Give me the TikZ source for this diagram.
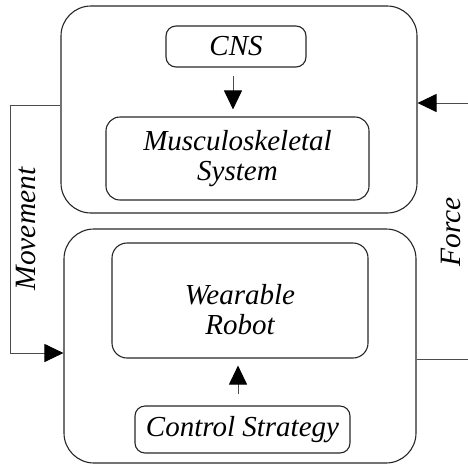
\documentclass[tikz,border=0pt]{standalone}
\usepackage{fontspec}
\setmainfont{Liberation Serif}
\usetikzlibrary{arrows.meta,calc}
\tikzset{
  box/.style={draw=black!85, line width=1.1pt, rectangle, inner sep=0pt,
    font=\itshape\fontsize{29}{30}\selectfont, text=black, align=center},
  bigbox/.style={box, rounded corners=30pt},
  smallbox/.style={box, rounded corners=11pt},
  lbl/.style={font=\itshape\fontsize{29.5}{30}\selectfont, text=black, inner sep=0pt},
  conn/.style={draw=black!70, line width=1pt},
  arr/.style={conn, -{Triangle[length=19pt,width=18pt,color=black,fill=black]}}
}
\begin{document}
\begin{tikzpicture}[x=1pt,y=-1pt]
\useasboundingbox (0,0) rectangle (468,464);
% big boxes
\node[bigbox, minimum width=356pt, minimum height=207pt] (top) at (239,109.5) {};
\node[bigbox, minimum width=352pt, minimum height=234pt] (bot) at (240,346) {};
% inner boxes
\node[smallbox, rounded corners=10pt, minimum width=140pt, minimum height=41pt] (cns) at (236,46.5) {CNS};
\node[smallbox, rounded corners=14pt, minimum width=263pt, minimum height=83pt] (mus) at (237.5,158.5) {Musculoskeletal\\System};
\node[smallbox, rounded corners=15pt, minimum width=256pt, minimum height=115pt] (wr) at (240,300.5) {};
\node[lbl, align=center, font=\itshape\fontsize{29}{30}\selectfont] (wrtext) at (240,310) {Wearable\\Robot};
\node[smallbox, rounded corners=10pt, minimum width=215pt, minimum height=47pt] (cs) at (242.5,429.5) {Control Strategy};
% internal arrows
\draw[arr, shorten <=8pt, shorten >=7pt] ([xshift=-3pt]cns.south) -- ([xshift=-3pt]cns.south |- mus.north);
\draw[arr, shorten <=11pt, shorten >=7pt] ([xshift=-4.5pt]cs.north) -- ([xshift=-4.5pt]cs.north |- wr.south);
% movement loop
\coordinate (mvA) at (10,105);
\coordinate (mvB) at (10,353);
\draw[arr] (top.west |- mvA) -- (mvA) -- (mvB) -- (bot.west |- mvB);
\node[lbl, rotate=90] (mvlbl) at (26,229) {Movement};
% force
\coordinate (fin) at (468,103);
\coordinate (fout) at (468,359);
\draw[arr] (fin) -- (top.east |- fin);
\draw[conn] (bot.east |- fout) -- (fout);
\node[lbl, rotate=90] (flbl) at (451,232) {Force};
\end{tikzpicture}
\end{document}
